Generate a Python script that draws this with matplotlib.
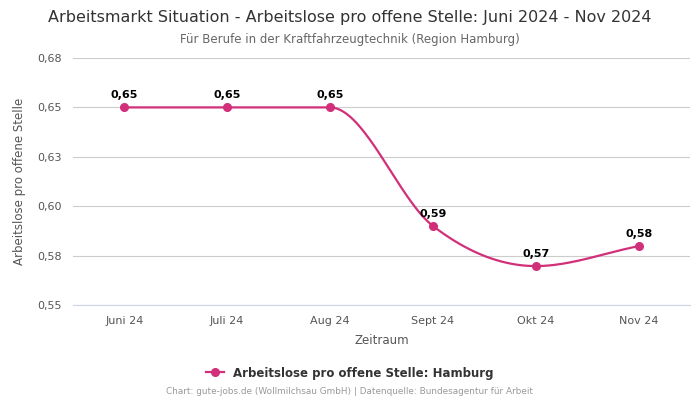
import matplotlib.pyplot as plt
import numpy as np
from matplotlib.lines import Line2D

months = ['Juni 24', 'Juli 24', 'Aug 24', 'Sept 24', 'Okt 24', 'Nov 24']
values = [0.65, 0.65, 0.65, 0.59, 0.5697, 0.5798]
labels = ['0,65', '0,65', '0,65', '0,59', '0,57', '0,58']
yticks = [0.55, 0.575, 0.60, 0.625, 0.65, 0.675]
ytick_labels = ['0,55', '0,58', '0,60', '0,63', '0,65', '0,68']

color = '#d22f7b'


def monotone_curve(x, y, n=40):
    # Fritsch-Carlson monotone cubic, just to draw the smooth line
    x = np.asarray(x, float)
    y = np.asarray(y, float)
    h = np.diff(x)
    d = np.diff(y) / h
    m = np.zeros_like(y)
    m[0], m[-1] = d[0], d[-1]
    for i in range(1, len(y) - 1):
        if d[i - 1] * d[i] <= 0:
            m[i] = 0
        else:
            m[i] = (d[i - 1] + d[i]) / 2
    for i in range(len(d)):
        if d[i] == 0:
            m[i] = m[i + 1] = 0
        else:
            a, b = m[i] / d[i], m[i + 1] / d[i]
            s = a * a + b * b
            if s > 9:
                t = 3 / np.sqrt(s)
                m[i], m[i + 1] = t * a * d[i], t * b * d[i]
    xs, ys = [], []
    for i in range(len(d)):
        t = np.linspace(0, 1, n)
        h00 = 2 * t**3 - 3 * t**2 + 1
        h10 = t**3 - 2 * t**2 + t
        h01 = -2 * t**3 + 3 * t**2
        h11 = t**3 - t**2
        xs.append(x[i] + t * h[i])
        ys.append(h00 * y[i] + h10 * h[i] * m[i] + h01 * y[i + 1] + h11 * h[i] * m[i + 1])
    return np.concatenate(xs), np.concatenate(ys)


x = np.arange(len(months))
fig = plt.figure(figsize=(7, 4), dpi=100)
ax = fig.add_axes([0.104, 0.2375, 0.882, 0.6175])

cx, cy = monotone_curve(x, values)
ax.plot(cx, cy, color=color, lw=1.6)
ax.plot(x, values, 'o', color=color, ms=5.5)

for xi, v, lab in zip(x, values, labels):
    ax.annotate(lab, (xi, v), xytext=(0, 5), textcoords='offset points',
                ha='center', va='bottom', fontsize=8, fontweight='bold', color='black')

ax.set_xlim(-0.5, 5.5)
ax.set_ylim(0.55, 0.675)
ax.set_xticks(x)
ax.set_xticklabels(months, fontsize=8, color='#555555')
ax.set_yticks(yticks)
ax.set_yticklabels(ytick_labels, fontsize=8, color='#555555')
ax.tick_params(length=0, pad=8)
ax.grid(axis='y', color='#cccccc', lw=0.8)
ax.set_axisbelow(True)
for s in ax.spines.values():
    s.set_visible(False)
ax.spines['bottom'].set_visible(True)
ax.spines['bottom'].set_color('#ccd6eb')
ax.spines['bottom'].set_linewidth(0.8)

ax.set_xlabel('Zeitraum', fontsize=8.5, color='#555555', labelpad=6)
ax.set_ylabel('Arbeitslose pro offene Stelle', fontsize=8.5, color='#555555', labelpad=8)

fig.text(0.5, 0.957, 'Arbeitsmarkt Situation - Arbeitslose pro offene Stelle: Juni 2024 - Nov 2024',
         ha='center', va='center', fontsize=11.5, color='#333333')
fig.text(0.5, 0.902, 'Für Berufe in der Kraftfahrzeugtechnik (Region Hamburg)',
         ha='center', va='center', fontsize=8.5, color='#666666')

handle = Line2D([0], [0], color=color, marker='o', ms=5.5, lw=1.6)
fig.legend([handle], ['Arbeitslose pro offene Stelle: Hamburg'], loc='center',
           bbox_to_anchor=(0.5, 0.0675), frameon=False, handlelength=1.5,
           prop={'size': 8.5, 'weight': 'bold'}, labelcolor='#333333')

fig.text(0.5, 0.02, 'Chart: gute-jobs.de (Wollmilchsau GmbH) | Datenquelle: Bundesagentur für Arbeit',
         ha='center', va='center', fontsize=6.4, color='#999999')

fig.savefig('out.png', dpi=100)
